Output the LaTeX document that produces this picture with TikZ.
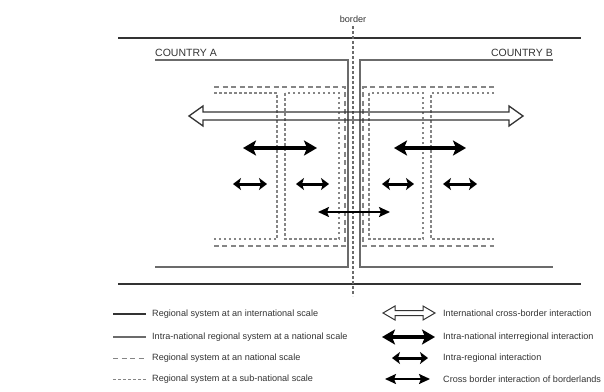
\documentclass[tikz,border=0pt]{standalone}
\usepackage{fontspec}
\setmainfont{Liberation Sans}
\usetikzlibrary{arrows.meta}
\definecolor{ink}{gray}{0.2}
\definecolor{midgray}{gray}{0.42}
\definecolor{lightgray}{gray}{0.52}
\tikzset{
  intl/.style={line width=2.8pt, draw=ink},
  natl/.style={line width=1.4pt, draw=midgray},
  reg/.style={line width=1.1pt, draw=lightgray, dash pattern=on 5pt off 3.5pt},
  subreg/.style={line width=1.1pt, draw=lightgray, dash pattern=on 2.5pt off 2.5pt},
  borderline/.style={line width=1.1pt, draw=midgray, dash pattern=on 3pt off 2pt},
  hollow/.style={line width=1.3pt, draw=ink, line join=miter},
  bigarrow/.style={line width=4.8pt, draw=black, {Stealth[length=13pt,width=15pt,inset=3pt]}-{Stealth[length=13pt,width=15pt,inset=3pt]}},
  smallarrow/.style={line width=3pt, draw=black, {Stealth[length=8pt,width=12pt,inset=2pt]}-{Stealth[length=8pt,width=12pt,inset=2pt]}},
  crossarrow/.style={line width=1.8pt, draw=black, {Stealth[length=11pt,width=10pt,inset=2pt]}-{Stealth[length=11pt,width=10pt,inset=2pt]}},
  countrylbl/.style={font=\fontsize{10.5}{11}\selectfont, text=ink, inner sep=0pt},
  leglbl/.style={font=\fontsize{9.1}{10}\selectfont, text=ink, inner sep=0pt, anchor=west},
}
\begin{document}
\begin{tikzpicture}[x=1pt,y=-1pt]
\useasboundingbox (0,0) rectangle (604,391);
% international regional system
\draw[intl] (118,38) -- (581,38);
\draw[intl] (118,284) -- (581,284);
% border
\coordinate (btop) at (353,26);
\coordinate (bbot) at (353,296);
\draw[borderline] (btop) -- (bbot);
\node[leglbl, anchor=south] (borderlbl) at (353,23) {border};
% countries
\draw[natl] (155,60) -- (348,60) -- (348,267) -- (155,267);
\draw[natl] (553,60) -- (360,60) -- (360,267) -- (553,267);
\node[countrylbl, anchor=south west] (ca) at (155,57) {COUNTRY A};
\node[countrylbl, anchor=south east] (cb) at (553,57) {COUNTRY B};
% national-scale regions
\draw[reg] (214,87) -- (345,87) -- (345,246) -- (214,246);
\draw[reg] (494,87) -- (363,87) -- (363,246) -- (494,246);
% sub-national regions
\draw[subreg] (214,93) -- (277,93) -- (277,239) -- (214,239);
\draw[subreg] (285,93) rectangle (339,239);
\draw[subreg] (369,93) rectangle (423,239);
\draw[subreg] (494,93) -- (431,93) -- (431,239) -- (494,239);
% international cross-border interaction
\draw[hollow] (189,116) -- (203,106) -- (203,112) -- (509,112) -- (509,106) -- (523,116)
  -- (509,126) -- (509,120) -- (203,120) -- (203,126) -- cycle;
% intra-national interregional
\coordinate (a1) at (243,148); \coordinate (a2) at (317,148);
\coordinate (b1) at (394,148); \coordinate (b2) at (466,148);
\draw[bigarrow] (a1) -- (a2);
\draw[bigarrow] (b1) -- (b2);
% intra-regional
\coordinate (c1) at (233,184); \coordinate (c2) at (267,184);
\coordinate (c3) at (296,184); \coordinate (c4) at (329,184);
\coordinate (c5) at (382,184); \coordinate (c6) at (414,184);
\coordinate (c7) at (443,184); \coordinate (c8) at (477,184);
\draw[smallarrow] (c1) -- (c2);
\draw[smallarrow] (c3) -- (c4);
\draw[smallarrow] (c5) -- (c6);
\draw[smallarrow] (c7) -- (c8);
% cross border of borderlands
\coordinate (x1) at (318,212); \coordinate (x2) at (390,212);
\draw[crossarrow] (x1) -- (x2);
% legend left
\draw[intl, line width=2.4pt] (113,314) -- (146,314);
\draw[natl, line width=1.1pt] (113,337) -- (146,337);
\draw[reg, line width=1pt] (113,358) -- (146,358);
\draw[subreg, line width=1pt] (113,379) -- (146,379);
\node[leglbl] (l1) at (152,314) {Regional system at an international scale};
\node[leglbl] (l2) at (152,337) {Intra-national regional system at a national scale};
\node[leglbl] (l3) at (152,358) {Regional system at an national scale};
\node[leglbl] (l4) at (152,379) {Regional system at a sub-national scale};
% legend right
\draw[hollow, line width=1pt] (383,313) -- (395,306) -- (395,310.5) -- (423,310.5) -- (423,306) -- (435,313)
  -- (423,320) -- (423,315.5) -- (395,315.5) -- (395,320) -- cycle;
\coordinate (r1) at (382,337); \coordinate (r2) at (435,337);
\draw[bigarrow] (r1) -- (r2);
\coordinate (r3) at (392,358); \coordinate (r4) at (428,358);
\draw[smallarrow] (r3) -- (r4);
\coordinate (r5) at (385,379); \coordinate (r6) at (430,379);
\draw[crossarrow] (r5) -- (r6);
\node[leglbl] (m1) at (443,313) {International cross-border interaction};
\node[leglbl] (m2) at (443,337) {Intra-national interregional interaction};
\node[leglbl] (m3) at (443,358) {Intra-regional interaction};
\node[leglbl] (m4) at (443,379) {Cross border interaction of borderlands};
\end{tikzpicture}
\end{document}
